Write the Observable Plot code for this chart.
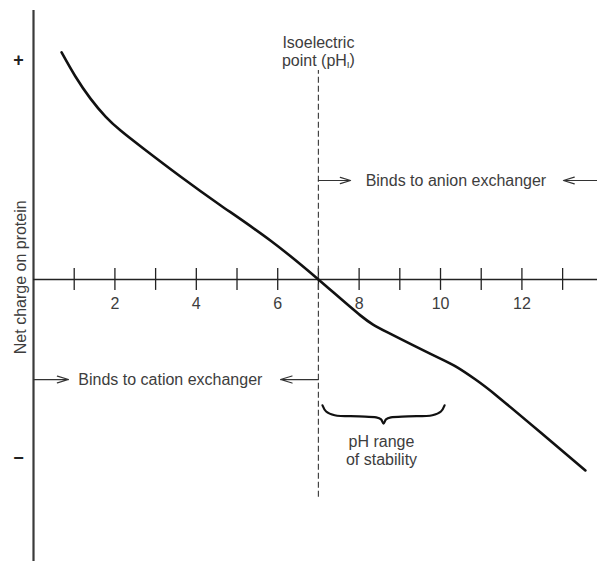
<!DOCTYPE html>
<html><head><meta charset="utf-8">
<script src="https://cdn.jsdelivr.net/npm/d3@7"></script>
<script src="https://cdn.jsdelivr.net/npm/@observablehq/plot@0.6"></script>
<style>
html,body{margin:0;padding:0;background:#fff;}
#chart svg{display:block;}
</style></head><body><div id="chart"></div>
<script>
// Titration curve (schematic): pH vs net charge (+ = 1 unit)
const pH     = [0.69, 1.03, 1.40, 1.77, 2.14, 2.70, 3.61, 4.60, 5.82, 7.0, 8.03, 8.70, 9.83, 10.37, 10.86, 11.40, 12.46, 13.56];
const charge = [1.037, 0.927, 0.826, 0.744, 0.680, 0.598, 0.470, 0.338, 0.178, 0.0, -0.164, -0.242, -0.347, -0.397, -0.457, -0.534, -0.699, -0.872];

const xTicks = [1, 2, 3, 4, 5, 6, 7, 8, 9, 10, 11, 12, 13];
const xTickLabels = [2, 4, 6, 8, 10, 12];
const yTickValues = [1.0, -0.817];
const yTickLabels = ["+", "\u2212"];

const isoelectricPH = 7;
const stabilityRange = [7.1, 10.1];
const anionLevel = 0.452;
const cationLevel = -0.457;
const xDomain = [-0.811, 13.857];
const yDomain = [-1.288, 1.274];

const arrows = [
  {x1: 7, x2: 7.79, y: anionLevel},
  {x1: 13.857, x2: 13.02, y: anionLevel},
  {x1: 0, x2: 0.86, y: cationLevel},
  {x1: 7, x2: 6.07, y: cationLevel}
];
const labels = [
  {text: "Binds to anion exchanger", x: 8.16, y: anionLevel},
  {text: "Binds to cation exchanger", x: 1.1, y: cationLevel}
];

// brace shape: fraction along range, depth in charge units
const braceT = [0, 0.03, 0.1, 0.3, 0.44, 0.48, 0.5, 0.52, 0.56, 0.7, 0.9, 0.97, 1];
const braceD = [0, 0.028, 0.045, 0.05, 0.055, 0.064, 0.083, 0.064, 0.055, 0.05, 0.045, 0.028, 0];
const braceTop = -0.575;
const brace = braceT.map((t, i) => ({
  x: stabilityRange[0] + t * (stabilityRange[1] - stabilityRange[0]),
  y: braceTop - braceD[i]
}));

const curve = pH.map((x, i) => ({x, y: charge[i]}));
const font = "'Liberation Sans', Arial, Helvetica, sans-serif";
const txt = "#3d3d3d";

const chart = Plot.plot({
  width: 597, height: 561,
  marginLeft: 0, marginRight: 0, marginTop: 0, marginBottom: 0,
  style: {fontFamily: font, background: "#fff"},
  x: {domain: xDomain, axis: null},
  y: {domain: yDomain, axis: null},
  marks: [
    Plot.ruleX([0], {y1: yDomain[0], y2: 1.228, stroke: "#3a3a3a", strokeWidth: 2.2}),
    Plot.ruleY([0], {x1: 0, x2: xDomain[1], stroke: "#222", strokeWidth: 1.6}),
    Plot.ruleX(xTicks, {y1: -0.05, y2: 0.05, stroke: "#222", strokeWidth: 1.3}),
    Plot.text(xTickLabels, {x: d => d, y: -0.11, text: d => String(d), fontSize: 16, fill: txt, lineAnchor: "middle"}),
    Plot.text(yTickValues, {x: -0.37, y: d => d, text: (d, i) => yTickLabels[i], fontSize: 18, fontWeight: "bold", fill: "#222", lineAnchor: "middle"}),
    Plot.text(["Net charge on protein"], {x: -0.32, y: 0.01, rotate: -90, fontSize: 16, fill: txt, lineAnchor: "middle"}),
    Plot.ruleX([isoelectricPH], {y1: -0.995, y2: 0.954, stroke: "#444", strokeWidth: 1.2, strokeDasharray: "6,3"}),
    Plot.text(["Isoelectric\npoint (pH_I)"], {x: isoelectricPH, y: 1.043, fontSize: 16, fill: txt, lineAnchor: "middle", lineHeight: 1.1}),
    Plot.line(curve, {x: "x", y: "y", curve: "natural", stroke: "#111", strokeWidth: 2.6, strokeLinecap: "round"}),
    Plot.arrow(arrows, {x1: "x1", x2: "x2", y1: "y", y2: "y", headLength: 15, headAngle: 34, stroke: "#333", strokeWidth: 1.2}),
    Plot.text(labels, {x: "x", y: "y", text: "text", textAnchor: "start", fontSize: 16, fill: txt, lineAnchor: "middle"}),
    Plot.line(brace, {x: "x", y: "y", curve: "catmull-rom", stroke: "#111", strokeWidth: 2.2}),
    Plot.text(["pH range\nof stability"], {x: (stabilityRange[0] + stabilityRange[1]) / 2 - 0.05, y: -0.78, fontSize: 16, fill: txt, lineAnchor: "middle", lineHeight: 1.1})
  ]
});

// subscript I in pH_I
d3.select(chart).selectAll("tspan").each(function() {
  if (this.textContent === "point (pH_I)") {
    const t = d3.select(this);
    t.text("point (pH");
    t.append("tspan").attr("font-size", "0.62em").attr("dy", "0.3em").text("I");
    t.append("tspan").attr("dy", "-0.19em").text(")");
  }
});

document.getElementById("chart").appendChild(chart);
</script>
</body></html>
